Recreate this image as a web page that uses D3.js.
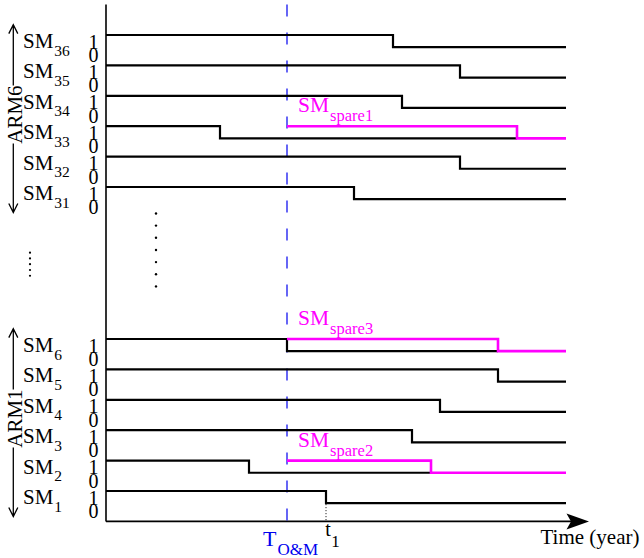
<!DOCTYPE html>
<html>
<head>
<meta charset="utf-8">
<script src="https://cdn.jsdelivr.net/npm/d3@7/dist/d3.min.js"></script>
<style>
  html, body { margin: 0; padding: 0; background: #fff; }
  svg { display: block; }
  svg text { font-family: "Liberation Serif", "DejaVu Serif", serif; }
</style>
</head>
<body>
<svg id="chart" width="644" height="558"></svg>
<script>
// submodules, upper arm first, then lower arm
const moduleIds = ["36", "35", "34", "33", "32", "31", "6", "5", "4", "3", "2", "1"];
const moduleSlots = [0, 1, 2, 3, 4, 5, 10, 11, 12, 13, 14, 15];
const failTimes = [28.7, 35.4, 29.6, 11.4, 35.4, 24.8, 18.1, 39.2, 33.4, 30.6, 14.3, 22.0];

// spare submodules switched in at T_O&M
const spareNames = ["spare1", "spare3", "spare2"];
const spareRows = ["33", "6", "2"];
const spareFailTimes = [41.1, 39.2, 32.5];

const armNames = ["ARM6", "ARM1"];
const armRows = [["36", "31"], ["6", "1"]];

const tOM = 18.1;
const t1 = 22.0;
const tEnd = 46;

const BLACK = "#000";
const MAGENTA = "#ff00ff";
const BLUE = "#0000ee";
const SERIF = "Liberation Serif";

const svg = d3.select("#chart").attr("font-family", SERIF);

const x = d3.scaleLinear().domain([0, tEnd]).range([106, 566]);
const y = d3.scaleLinear().domain([0, 15]).range([35, 491]);

// state 1 = working (upper level), 0 = failed (lower level)
const level = (slot, state) => y(slot + (state ? 0 : 0.4));
const slotOf = (id) => moduleSlots[moduleIds.indexOf(id)];

const line = d3.line()
  .x((d) => x(d[0]))
  .y((d) => level(d[1], d[2]));

// axes
const xAxisY = y(16);
svg.append("line")
  .attr("x1", x(0)).attr("x2", x(0))
  .attr("y1", y(-1)).attr("y2", xAxisY)
  .attr("stroke", BLACK).attr("stroke-width", 1.6);

svg.append("line")
  .attr("x1", x(0)).attr("x2", 572)
  .attr("y1", xAxisY).attr("y2", xAxisY)
  .attr("stroke", BLACK).attr("stroke-width", 1.6);

svg.append("path")
  .attr("d", `M589,${xAxisY} L566.5,${xAxisY - 8} L571,${xAxisY} L566.5,${xAxisY + 8} Z`)
  .attr("fill", BLACK);

svg.append("text")
  .attr("x", 540.5).attr("y", 544)
  .attr("font-family", SERIF).attr("font-size", 21)
  .text("Time (year)");

// T_O&M marker
svg.append("line")
  .attr("x1", x(tOM)).attr("x2", x(tOM))
  .attr("y1", y(-1)).attr("y2", xAxisY)
  .attr("stroke", BLUE).attr("stroke-width", 1.2)
  .attr("stroke-dasharray", "12,16");

const tLabel = svg.append("text")
  .attr("x", x(tOM) - 24).attr("y", 545.5)
  .attr("fill", BLUE).attr("font-family", SERIF).attr("font-size", 22);
tLabel.append("tspan").text("T");
tLabel.append("tspan").attr("font-size", 17).attr("dy", 9).attr("dx", 1).text("O&M");

// black step lines
const spareFailByRow = new Map(spareRows.map((r, i) => [r, spareFailTimes[i]]));

moduleIds.forEach((id, i) => {
  const slot = moduleSlots[i];
  const fail = failTimes[i];
  const stop = spareFailByRow.has(id) ? spareFailByRow.get(id) : tEnd;
  const pts = [[0, slot, 1], [fail, slot, 1], [fail, slot, 0], [stop, slot, 0]];
  svg.append("path")
    .attr("d", line(pts))
    .attr("fill", "none")
    .attr("stroke", BLACK)
    .attr("stroke-width", 2.2);

  // left labels
  const lab = svg.append("text")
    .attr("x", 23).attr("y", y(slot) + 13)
    .attr("font-family", SERIF).attr("font-size", 21);
  lab.append("tspan").text("SM");
  lab.append("tspan").attr("font-size", 15.5).attr("dy", 7.5).attr("dx", 1).text(id);

  svg.append("text")
    .attr("x", 93.5).attr("y", y(slot) + 13.5)
    .attr("text-anchor", "middle")
    .attr("font-family", SERIF).attr("font-size", 20)
    .text("1");
  svg.append("text")
    .attr("x", 93.5).attr("y", y(slot) + 27)
    .attr("text-anchor", "middle")
    .attr("font-family", SERIF).attr("font-size", 20)
    .text("0");
});

// spare lines
spareRows.forEach((row, i) => {
  const slot = slotOf(row);
  const fail = spareFailTimes[i];
  const pts = [[tOM, slot, 1], [fail, slot, 1], [fail, slot, 0], [tEnd, slot, 0]];
  svg.append("path")
    .attr("d", line(pts))
    .attr("fill", "none")
    .attr("stroke", MAGENTA)
    .attr("stroke-width", 2.6);

  const lab = svg.append("text")
    .attr("x", x(tOM) + 11).attr("y", y(slot) - 14)
    .attr("fill", MAGENTA).attr("font-family", SERIF).attr("font-size", 21.5);
  lab.append("tspan").text("SM");
  lab.append("tspan").attr("font-size", 16.5).attr("dy", 9).attr("dx", 1).text(spareNames[i]);
});

// t1 marker
const t1Slot = slotOf("1");
svg.append("line")
  .attr("x1", x(t1)).attr("x2", x(t1))
  .attr("y1", level(t1Slot, 0) + 1).attr("y2", xAxisY)
  .attr("stroke", BLACK).attr("stroke-width", 1)
  .attr("stroke-dasharray", "1,2");

const t1Label = svg.append("text")
  .attr("x", x(t1) - 0.7).attr("y", 536)
  .attr("font-family", SERIF).attr("font-size", 20);
t1Label.append("tspan").text("t");
t1Label.append("tspan").attr("font-size", 17).attr("dy", 10.5).attr("dx", 0.5).text("1");

// arm arrows
armNames.forEach((name, i) => {
  const top = y(slotOf(armRows[i][0]) - 0.34);
  const bottom = y(slotOf(armRows[i][1]) + 0.84);
  const mid = (top + bottom) / 2 - 4;
  const half = 29;
  const ax = 13.3;

  svg.append("path")
    .attr("d", `M${ax},${top} V${mid - half} M${ax},${mid + half} V${bottom}` +
      ` M${ax - 4.5},${top + 9} L${ax},${top} L${ax + 4.5},${top + 9}` +
      ` M${ax - 4.5},${bottom - 9} L${ax},${bottom} L${ax + 4.5},${bottom - 9}`)
    .attr("fill", "none")
    .attr("stroke", BLACK)
    .attr("stroke-width", 1.3);

  svg.append("text")
    .attr("transform", `translate(22,${mid}) rotate(-90)`)
    .attr("text-anchor", "middle")
    .attr("font-family", SERIF).attr("font-size", 21)
    .text(name);
});

// vertical ellipses between the arms
svg.selectAll("circle.gap")
  .data(d3.range(7))
  .join("circle")
  .attr("class", "gap")
  .attr("cx", x(5))
  .attr("cy", (d) => y(5.87 + d * 0.4))
  .attr("r", 1.2)
  .attr("fill", BLACK);

svg.selectAll("circle.arm")
  .data(d3.range(5))
  .join("circle")
  .attr("class", "arm")
  .attr("cx", 30)
  .attr("cy", (d) => y(7.16 + d * 0.19))
  .attr("r", 1.1)
  .attr("fill", BLACK);
</script>
</body>
</html>
